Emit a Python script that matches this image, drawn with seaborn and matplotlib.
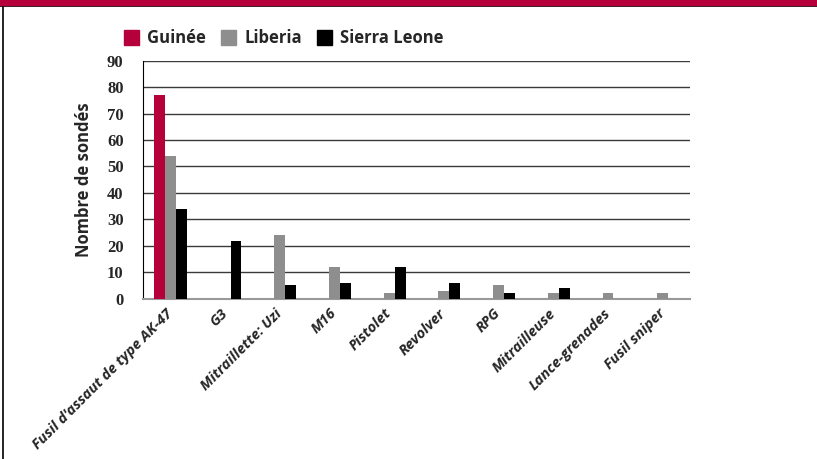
import pandas as pd
import matplotlib.pyplot as plt
import seaborn as sns
from matplotlib.patches import Rectangle
from matplotlib.lines import Line2D

# Data
weapons = ["Fusil d'assaut de type AK-47", "G3", "Mitraillette: Uzi", "M16", "Pistolet",
           "Revolver", "RPG", "Mitrailleuse", "Lance-grenades", "Fusil sniper"]
guinee = [77, 0, 0, 0, 0, 0, 0, 0, 0, 0]
liberia = [54, 0, 24, 12, 2, 3, 5, 2, 2, 2]
sierra_leone = [34, 22, 5, 6, 12, 6, 2, 4, 0, 0]
countries = ["Guinée", "Liberia", "Sierra Leone"]
colors = ["#b5003b", "#8e8e8e", "#000000"]

rows = []
for name, vals in zip(countries, [guinee, liberia, sierra_leone]):
    for w, v in zip(weapons, vals):
        rows.append({"arme": w, "pays": name, "n": v})
df = pd.DataFrame(rows)

sns.set_style("white")
fig = plt.figure(figsize=(8.17, 4.59), dpi=100)
ax = fig.add_axes([0.175, 0.3492, 0.6696, 0.5186])

sns.barplot(data=df, x="arme", y="n", hue="pays", order=weapons, hue_order=countries,
            palette=colors, width=0.6, saturation=1, linewidth=0, legend=False,
            ax=ax, zorder=3)

ax.set_ylim(0, 90)
ax.set_xlim(-0.5, len(weapons) - 0.5)
ax.set_yticks(range(0, 91, 10))
ax.yaxis.grid(True, color="#3a3a3a", linewidth=1)
ax.set_axisbelow(True)
for s in ["top", "right"]:
    ax.spines[s].set_visible(False)
ax.spines["left"].set_color("black")
ax.spines["bottom"].set_color("#999999")
ax.spines["bottom"].set_linewidth(1.5)

# tick marks between groups
ax.set_xticks([i + 0.5 for i in range(len(weapons))], minor=True)
ax.tick_params(axis="x", which="major", length=0, pad=9)
ax.tick_params(axis="x", which="minor", length=4, color="#444444", direction="out")
ax.tick_params(axis="y", length=5, color="black", direction="out", pad=9)

ax.set_xticks(range(len(weapons)))
ax.set_xticklabels(weapons, rotation=45, ha="right", va="center", rotation_mode="anchor",
                   fontsize=10.5, fontweight="bold", fontstyle="italic", family="Open Sans")
for lab in ax.get_yticklabels():
    lab.set_fontsize(12)
    lab.set_fontweight("bold")
    lab.set_family("Liberation Serif")
ax.set_xlabel("")
ax.set_ylabel("Nombre de sondés", fontsize=12, fontweight="bold", family="Open Sans",
              labelpad=10)

handles = [Rectangle((0, 0), 1, 1, color=c) for c in colors]
fig.legend(handles, countries, loc="upper left", bbox_to_anchor=(0.133, 0.97), ncol=3,
           frameon=False, handlelength=0.9, handleheight=1.0, handletextpad=0.5,
           columnspacing=0.9, prop={"family": "Open Sans", "weight": "bold", "size": 12})

# frame decoration: top band and left border
fig.patches.append(Rectangle((0, 1 - 5 / 459), 1, 5 / 459, transform=fig.transFigure,
                             color="#b5003b", zorder=5))
fig.lines.append(Line2D([0, 1], [1 - 5.5 / 459] * 2, transform=fig.transFigure,
                        color="black", linewidth=1.2))
fig.lines.append(Line2D([3.5 / 817] * 2, [0, 1], transform=fig.transFigure,
                        color="black", linewidth=1.2))

fig.savefig("out.png", dpi=100)
